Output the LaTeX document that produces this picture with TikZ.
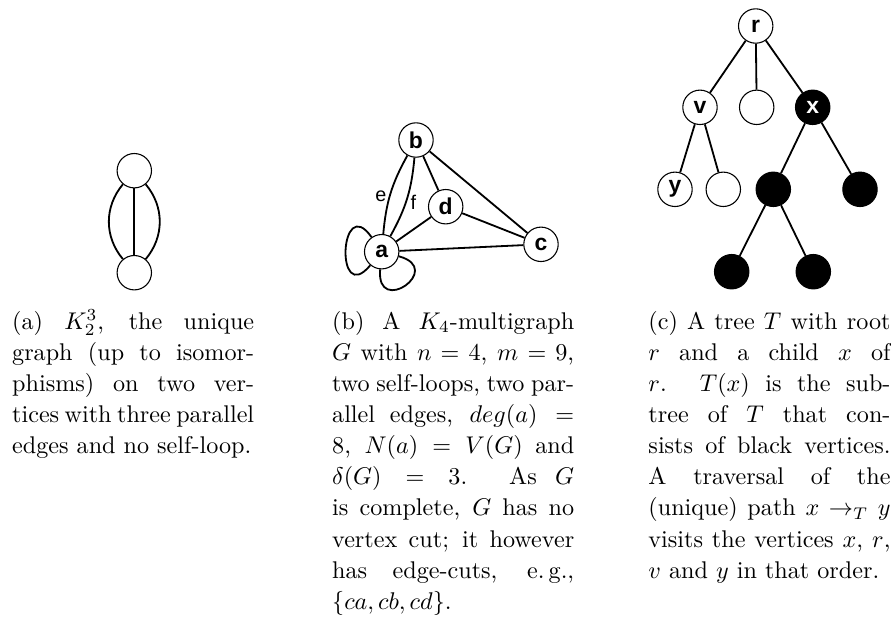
\documentclass[tikz,border=0pt]{standalone}
\usepackage{fontspec}
\newfontfamily\lblfont{Liberation Sans}
\begin{document}
\begin{tikzpicture}[x=0.414pt,y=0.414pt,
  vtx/.style={circle,draw,line width=0.45pt,inner sep=0pt,minimum size=14.24pt,
    font=\lblfont\bfseries\fontsize{9.5}{9.5}\selectfont},
  blk/.style={vtx,fill=black,text=white},
  lnk/.style={line width=0.75pt},
  elbl/.style={font=\lblfont\fontsize{8.2}{8.2}\selectfont,inner sep=0pt},
  captxt/.style={text width=100.2pt,align=justify,inner sep=0pt,anchor=base west,
    font=\fontsize{10}{12.9}\selectfont}]
\useasboundingbox (0,0) rectangle (891,-622);

% (a)
\node[vtx] (a1) at (134.3,-170.7) {};
\node[vtx] (a2) at (134.3,-272.7) {};
\draw[lnk] (a1) -- (a2);
\draw[lnk] (a1) to[bend left=40] (a2);
\draw[lnk] (a1) to[bend right=40] (a2);

% (b)
\node[vtx] (bb) at (416,-140) {b};
\node[vtx] (bd) at (445.7,-206.7) {d};
\node[vtx] (bc) at (541,-244.3) {c};
\node[vtx] (ba) at (381.7,-251.7) {a};
\draw[lnk] (ba) to[bend left=12] (bb);
\draw[lnk] (ba) to[bend right=12] (bb);
\draw[lnk] (bb) -- (bd);
\draw[lnk] (bb) -- (bc);
\draw[lnk] (bd) -- (bc);
\draw[lnk] (bd) -- (ba);
\draw[lnk] (ba) -- (bc);
\draw[lnk] (ba) to[out=125,in=230,distance=23pt] (ba);
\draw[lnk] (ba) to[out=265,in=345,distance=20pt] (ba);
\node[elbl] (le) at (381,-196) {e};
\node[elbl] (lf) at (413.3,-202.7) {f};

% (c)
\node[vtx] (r) at (755.7,-26) {r};
\node[vtx] (v) at (700,-107.3) {v};
\node[vtx] (m) at (756.7,-107.3) {};
\node[blk] (x) at (812.7,-107.3) {x};
\node[vtx] (y) at (675,-189.3) {y};
\node[vtx] (w) at (723.3,-189.3) {};
\node[blk] (k1) at (773.3,-189.3) {};
\node[blk] (k2) at (860,-189.3) {};
\node[blk] (k3) at (731.7,-271.7) {};
\node[blk] (k4) at (813.3,-271.7) {};
\draw[lnk] (r) -- (v);
\draw[lnk] (r) -- (m);
\draw[lnk] (r) -- (x);
\draw[lnk] (v) -- (y);
\draw[lnk] (v) -- (w);
\draw[lnk] (x) -- (k1);
\draw[lnk] (x) -- (k2);
\draw[lnk] (k1) -- (k3);
\draw[lnk] (k1) -- (k4);

% captions
\node[captxt] (capa) at (11.7,-329) {(a) $K_2^3$, the unique \linebreak graph (up to isomor-\linebreak phisms) on two ver-\linebreak tices with three parallel \linebreak edges and no self-loop.};
\node[captxt] (capb) at (331.7,-329) {(b) A $K_4$-multigraph \linebreak $G$ with $n=4$, $m=9$, \linebreak two self-loops, two par-\linebreak allel edges, $deg(a)=\penalty-10000 8$, $N(a)=V(G)$ and \linebreak $\delta(G)=3$. As $G$ \linebreak is complete, $G$ has no \linebreak vertex cut; it however \linebreak has edge-cuts, e.\,g., \linebreak $\{ca,cb,cd\}$.};
\node[captxt] (capc) at (648,-329) {(c) A tree $T$ with root \linebreak $r$ and a child $x$ of \linebreak $r$. $T(x)$ is the sub-\linebreak tree of $T$ that con-\linebreak sists of black vertices. \linebreak A traversal of the \linebreak (unique) path $x\to_T y$ \linebreak visits the vertices $x$, $r$, \linebreak $v$ and $y$ in that order.};
\end{tikzpicture}
\end{document}
